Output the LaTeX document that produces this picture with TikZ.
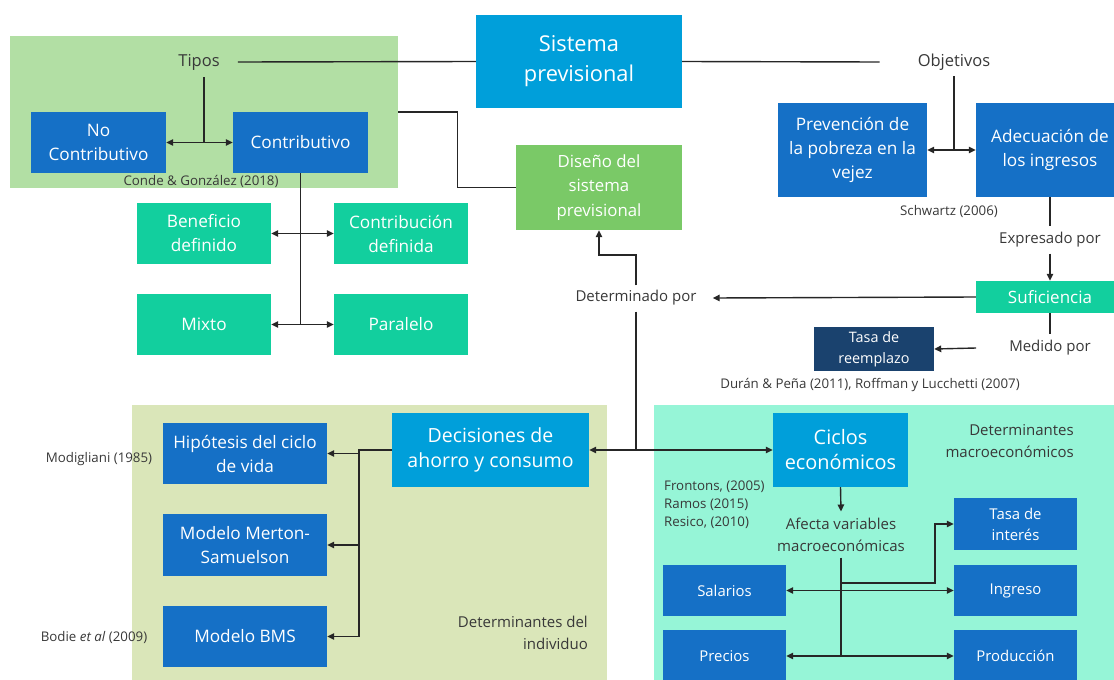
\documentclass[tikz,border=0pt]{standalone}
\usepackage{fontspec}
\setmainfont{Open Sans}
\usetikzlibrary{arrows.meta,calc}
\definecolor{cSis}{HTML}{009FDA}
\definecolor{cBlue}{HTML}{1570C6}
\definecolor{cTeal}{HTML}{12CF9E}
\definecolor{cDis}{HTML}{7AC967}
\definecolor{cBgA}{HTML}{B2DFA4}
\definecolor{cBgB}{HTML}{DAE6B9}
\definecolor{cBgC}{HTML}{96F5D7}
\definecolor{cNavy}{HTML}{1A426E}
\definecolor{cLine}{HTML}{262626}
\definecolor{cTxt}{HTML}{383838}
\begin{document}
\begin{tikzpicture}[x=1pt,y=-1pt,
 box/.style={rectangle, inner sep=0pt, text=white, align=center, font=\fontsize{17.2}{24}\selectfont},
 bg/.style={rectangle, inner sep=0pt, draw=none},
 lbl/.style={inner sep=0pt, text=cTxt, align=center, font=\fontsize{15}{22}\selectfont},
 cite/.style={inner sep=0pt, text=cTxt, align=center, font=\fontsize{13.3}{18}\selectfont},
 ln/.style={draw=cLine, line width=1.4pt},
 arr/.style={ln, -{Triangle[length=7pt,width=6.5pt]}},
 darr/.style={ln, {Triangle[length=7pt,width=6.5pt]}-{Triangle[length=7pt,width=6.5pt]}},
]
\useasboundingbox (0,0) rectangle (1114,680);
\clip (0,0) rectangle (1114,680);
% backgrounds
\node[bg, fill=cBgA, minimum width=388, minimum height=152] (bgA) at (204,112) {};
\node[bg, fill=cBgB, minimum width=475, minimum height=285] (bgB) at (369.5,547.5) {};
\node[bg, fill=cBgC, minimum width=470, minimum height=285] (bgC) at (889,547.5) {};
% main boxes
\node[box, fill=cSis, minimum width=206, minimum height=93, font=\fontsize{21.8}{30}\selectfont] (sis) at (579,61.5) {Sistema\\previsional};
\node[box, fill=cBlue, minimum width=135, minimum height=61] (nocon) at (98.5,142.5) {No\\Contributivo};
\node[box, fill=cBlue, minimum width=135, minimum height=61] (con) at (300.5,142.5) {Contributivo};
\node[box, fill=cTeal, minimum width=134, minimum height=61] (ben) at (204,233.5) {Beneficio\\definido};
\node[box, fill=cTeal, minimum width=134, minimum height=61] (cdef) at (401,233.5) {Contribución\\definida};
\node[box, fill=cTeal, minimum width=134, minimum height=61] (mix) at (204,324.5) {Mixto};
\node[box, fill=cTeal, minimum width=134, minimum height=61] (par) at (401,324.5) {Paralelo};
\node[box, fill=cDis, minimum width=166, minimum height=85, font=\fontsize{16.8}{24.5}\selectfont] (dis) at (599,187.5) {Diseño del\\sistema\\previsional};
\node[box, fill=cBlue, minimum width=149, minimum height=94] (prev) at (852.5,150) {Prevención de\\la pobreza en la\\vejez};
\node[box, fill=cBlue, minimum width=148, minimum height=94] (adec) at (1050,150) {Adecuación de\\los ingresos};
\node[box, fill=cTeal, minimum width=148, minimum height=32, font=\fontsize{17}{24}\selectfont] (suf) at (1050,297) {Suficiencia};
\node[box, fill=cNavy, minimum width=120, minimum height=44, font=\fontsize{14.4}{21}\selectfont] (tasa) at (874,349) {Tasa de\\reemplazo};
\node[box, fill=cSis, minimum width=197, minimum height=74, font=\fontsize{19.5}{25}\selectfont] (dec) at (490.5,450) {Decisiones de\\ahorro y consumo};
\node[box, fill=cBlue, minimum width=164, minimum height=61] (hip) at (245,453.5) {Hipótesis del ciclo\\de vida};
\node[box, fill=cBlue, minimum width=164, minimum height=62] (mer) at (245,545) {Modelo Merton-\\Samuelson};
\node[box, fill=cBlue, minimum width=164, minimum height=61] (bms) at (245,636.5) {Modelo BMS};
\node[box, fill=cSis, minimum width=135, minimum height=74, font=\fontsize{19.9}{25}\selectfont] (cic) at (840.5,450) {Ciclos\\económicos};
\node[box, fill=cBlue, minimum width=123, minimum height=52, font=\fontsize{14.9}{21}\selectfont] (tint) at (1015.5,524) {Tasa de\\interés};
\node[box, fill=cBlue, minimum width=123, minimum height=51, font=\fontsize{14.9}{21}\selectfont] (ing) at (1015.5,590.5) {Ingreso};
\node[box, fill=cBlue, minimum width=123, minimum height=52, font=\fontsize{14.9}{21}\selectfont] (prod) at (1015.5,656) {Producción};
\node[box, fill=cBlue, minimum width=123, minimum height=51, font=\fontsize{14.9}{21}\selectfont] (sal) at (724.5,590.5) {Salarios};
\node[box, fill=cBlue, minimum width=123, minimum height=52, font=\fontsize{14.9}{21}\selectfont] (pre) at (724.5,656) {Precios};
% labels
\node[lbl, font=\fontsize{16.5}{22}\selectfont] (tipos) at (199,62) {Tipos};
\node[lbl, font=\fontsize{16.5}{22}\selectfont] (obj) at (954,62) {Objetivos};
\node[lbl] (expr) at (1050,240) {Expresado por};
\node[lbl] (det) at (636,298) {Determinado por};
\node[lbl] (med) at (1050,348) {Medido por};
\node[lbl] (afe) at (841,534.5) {Afecta variables\\macroeconómicas};
\node[lbl, anchor=east, align=right] (dind) at (588,632.5) {Determinantes del\\individuo};
\node[lbl, anchor=east, align=right] (dmac) at (1074,441) {Determinantes\\macroeconómicos};
% citations
\node[cite] (conde) at (201,181) {Conde \& González (2018)};
\node[cite] (schw) at (949,211) {Schwartz (2006)};
\node[cite] (duran) at (870,385) {Durán \& Peña (2011), Roffman y Lucchetti (2007)};
\node[cite] (modig) at (99,459) {Modigliani (1985)};
\node[cite] (bodie) at (94,637) {Bodie \textit{et al} (2009)};
\node[cite, anchor=west, align=left] (front) at (664,505) {Frontons, (2005)\\Ramos (2015)\\Resico, (2010)};
% connectors
\draw[ln] ([xshift=18pt]tipos.east) -- (sis.west);
\draw[ln] (sis.east) -- ([xshift=-38pt]obj.west);
\coordinate (tj) at (204,142.5);
\draw[ln] ([yshift=-7pt]tipos.south -| tj) -- (tj);
\draw[darr] (nocon.east) -- (con.west);
\draw[ln] (con.south) -- (con.south |- mix.east);
\draw[darr] (ben.east) -- (cdef.west);
\draw[darr] (mix.east) -- (par.west);
\draw[ln] (bgA.east) -- ++(59,0) |- (dis.west);
\coordinate (d1) at (636,255);
\draw[arr] ([yshift=5pt]det.north) -- (det.north |- d1) -| (dis.south);
\draw[arr] (suf.west) -- ([xshift=16pt]det.east);
\draw[ln] (adec.south) -- ([yshift=6pt]expr.north);
\draw[arr] ([yshift=-6pt]expr.south) -- (suf.north);
\draw[ln] (suf.south) -- ([yshift=6pt]med.north);
\draw[arr] ([xshift=-33pt]med.west) -- (tasa.east);
\coordinate (oj) at (954,150);
\draw[ln] ([yshift=-6pt]obj.south) -- (oj);
\draw[darr] (prev.east) -- (adec.west);
\draw[ln] ([yshift=-6pt]det.south) -- (det.south |- dec.east);
\draw[darr] (dec.east) -- (cic.west);
\coordinate (tr) at (359,450);
\draw[ln] (dec.west) -- (tr) -- (tr |- bms.east);
\draw[arr] (tr |- hip.east) -- (hip.east);
\draw[arr] (tr |- mer.east) -- (mer.east);
\draw[arr] (tr |- bms.east) -- (bms.east);
\draw[arr] (cic.south) -- ([yshift=6pt]afe.north);
\coordinate (at) at (841,583);
\coordinate (ab) at (935,583);
\draw[ln] ([yshift=-6pt]afe.south) -- (afe.south |- pre.east);
\draw[arr] (at) -- (ab) |- (tint.west);
\draw[darr] (sal.east) -- (ing.west);
\draw[darr] (pre.east) -- (prod.west);
\end{tikzpicture}
\end{document}
